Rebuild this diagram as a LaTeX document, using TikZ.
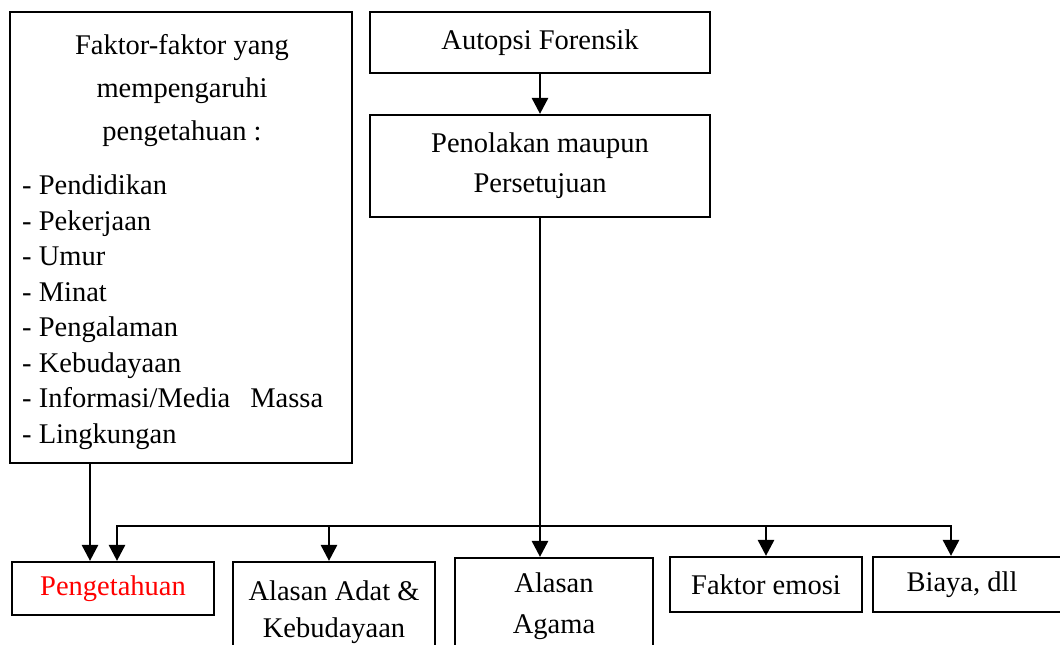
\documentclass[tikz,border=0pt]{standalone}
\usepackage{fontspec}
\setmainfont{Liberation Serif}
\newfontfamily\hurufserif{Liberation Serif}
\usepackage{xcolor}
\usetikzlibrary{shapes,arrows,arrows.meta,positioning,calc}

\tikzset{
  kotak/.style={draw, line width=2.2pt, inner sep=0pt, align=center},
  panah/.style={line width=2.8pt, -{Triangle[width=16pt,length=16pt]}},
  garis/.style={line width=2.8pt, line cap=rect}
}

\begin{document}
\begin{tikzpicture}[x=1pt,y=-1pt,font=\hurufserif\fontsize{28.5}{40}\selectfont]
\useasboundingbox (0,0) rectangle (1060,645);
\clip (0,0) rectangle (1060,645);
% kotak kiri
\node[kotak, minimum width=342pt, minimum height=451pt] (faktor) at (181,237.5) {};
\node[align=center, inner sep=0pt, font=\hurufserif\fontsize{28.5}{43}\selectfont] (judul) at (182,91) {Faktor-faktor yang\\mempengaruhi\\pengetahuan :};
\node[align=left, anchor=west, inner sep=0pt, font=\hurufserif\fontsize{28.5}{35.5}\selectfont] (daftar) at (22,312)
  {- Pendidikan\\- Pekerjaan\\- Umur\\- Minat\\- Pengalaman\\- Kebudayaan\\- Informasi/Media\hspace{20pt}Massa\\- Lingkungan};
% kotak atas
\node[kotak, minimum width=340pt, minimum height=61pt] (autopsi) at (540,42.5) {Autopsi Forensik};
\node[kotak, minimum width=340pt, minimum height=102pt] (penolakan) at (540,166) {Penolakan maupun\\Persetujuan};
% kotak bawah
\node[kotak, minimum width=202pt, minimum height=53pt, text=red] (pengetahuan) at (113,588.5) {Pengetahuan};
\node[kotak, minimum width=202pt, minimum height=100pt, font=\hurufserif\fontsize{28.5}{37}\selectfont] (adat) at (334,612) {Alasan Adat \&\\Kebudayaan};
\node[kotak, minimum width=198pt, minimum height=97pt, font=\hurufserif\fontsize{28.5}{41}\selectfont] (agama) at (554,606.5) {Alasan\\Agama};
\node[kotak, minimum width=192pt, minimum height=55pt] (emosi) at (766,584.5) {Faktor emosi};
\node[kotak, minimum width=200pt, minimum height=55pt] (biaya) at (973,584.5) {};
\node (biayateks) at (962,585) {Biaya, dll};
% titik cabang
\coordinate (kiri) at (90,0);
\coordinate (busA) at (117,526);
\coordinate (busB) at (329,526);
\coordinate (busC) at (766,526);
\coordinate (busD) at (951,526);
% panah
\draw[panah] (autopsi) -- (penolakan);
\draw[panah] (penolakan.south) -- (agama.north -| penolakan.south);
\draw[panah] (faktor.south -| kiri) -- (pengetahuan.north -| kiri);
\draw[garis] (busA) -- (busD);
\draw[panah] (busA) -- (busA |- pengetahuan.north);
\draw[panah] (busB) -- (busB |- adat.north);
\draw[panah] (busC) -- (emosi.north);
\draw[panah] (busD) -- (busD |- biaya.north);
\end{tikzpicture}
\end{document}
